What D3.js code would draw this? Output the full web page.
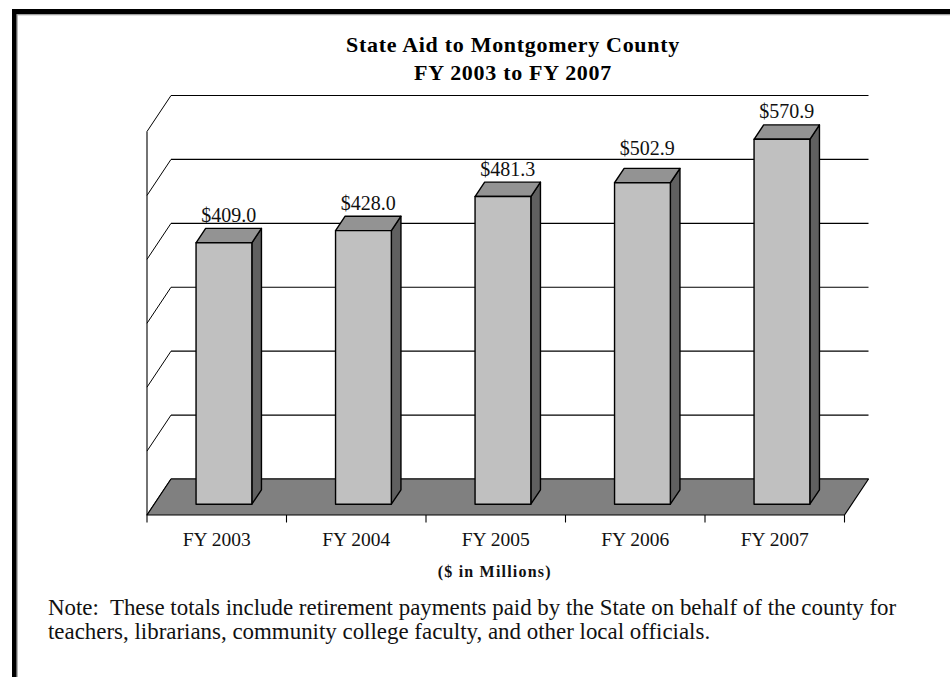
<!DOCTYPE html>
<html>
<head>
<meta charset="utf-8">
<script src="https://cdn.jsdelivr.net/npm/d3@7"></script>
<style>
html,body{margin:0;padding:0;background:#fff;}
svg{display:block;}
text{font-family:"Liberation Serif","Times New Roman",serif;}
</style>
</head>
<body>
<svg id="chart" width="950" height="677"></svg>
<script>
// ---- data ----
const categories = ["FY 2003", "FY 2004", "FY 2005", "FY 2006", "FY 2007"];
const values = [409.0, 428.0, 481.3, 502.9, 570.9];
const valueLabels = ["$409.0", "$428.0", "$481.3", "$502.9", "$570.9"];
const yTicks = [0, 100, 200, 300, 400, 500, 600];
const titleLines = ["State Aid to Montgomery County", "FY 2003 to FY 2007"];
const unitLabel = "($ in Millions)";
const noteLines = [
  "Note:  These totals include retirement payments paid by the State on behalf of the county for",
  "teachers, librarians, community college faculty, and other local officials."
];

// ---- layout ----
const svg = d3.select("#chart");
const depthX = 24, depthY = 36;           // back-to-front offset of the 3D box
const x = d3.scaleBand().domain(categories).range([147, 844.5]).paddingInner(0).paddingOuter(0);
const y = d3.scaleLinear().domain([0, 600]).range([479, 95.5]); // back wall
// point at depth p (0 = front, 1 = back)
const px = (xf, p) => xf + depthX * p;
const py = (v, p) => y(v) + depthY * (1 - p);
const barW = x.bandwidth() * 0.4;
const pFront = 0.3, pBack = 0.7;

// frame
svg.append("rect").attr("x", 12).attr("y", 9).attr("width", 950).attr("height", 5.3).attr("fill", "#000");
svg.append("rect").attr("x", 12).attr("y", 9).attr("width", 4.7).attr("height", 700).attr("fill", "#000");
svg.append("line").attr("x1", 16.7).attr("x2", 950).attr("y1", 14.8).attr("y2", 14.8).attr("stroke", "#999").attr("stroke-width", 1);
svg.append("line").attr("x1", 17.2).attr("x2", 17.2).attr("y1", 14.3).attr("y2", 677).attr("stroke", "#999").attr("stroke-width", 1);

// title
svg.append("g").selectAll("text").data(titleLines).join("text")
  .attr("x", 513).attr("y", (d, i) => 52 + i * 28)
  .attr("text-anchor", "middle").attr("font-weight", "bold")
  .attr("font-size", 22).attr("letter-spacing", 0.7)
  .text(d => d);

const x0 = x.range()[0], x1 = x.range()[1];

// back wall gridlines
svg.append("g").selectAll("line").data(yTicks).join("line")
  .attr("x1", px(x0, 1)).attr("x2", px(x1, 1))
  .attr("y1", d => y(d)).attr("y2", d => y(d))
  .attr("stroke", "#000").attr("stroke-width", 1.1);

// left wall diagonals
svg.append("g").selectAll("line").data(yTicks).join("line")
  .attr("x1", px(x0, 1)).attr("y1", d => py(d, 1))
  .attr("x2", px(x0, 0)).attr("y2", d => py(d, 0))
  .attr("stroke", "#000").attr("stroke-width", 1);
svg.append("line")
  .attr("x1", x0).attr("x2", x0)
  .attr("y1", py(600, 0)).attr("y2", py(0, 0))
  .attr("stroke", "#000").attr("stroke-width", 1.1);

// floor
const floorPts = [[px(x0, 0), py(0, 0)], [px(x0, 1), py(0, 1)], [px(x1, 1), py(0, 1)], [px(x1, 0), py(0, 0)]];
svg.append("polygon").attr("points", floorPts.map(p => p.join(",")).join(" "))
  .attr("fill", "#808080").attr("stroke", "#000").attr("stroke-width", 1.2).attr("stroke-linejoin", "round");

// front axis ticks
const tickXs = categories.map(c => x(c)).concat([x1]);
svg.append("g").selectAll("line").data(tickXs).join("line")
  .attr("x1", d => d).attr("x2", d => d)
  .attr("y1", py(0, 0)).attr("y2", py(0, 0) + 7.5)
  .attr("stroke", "#000").attr("stroke-width", 1.1);

// bars
const labelFont = 20, labelCap = 14;
const bars = svg.append("g").selectAll("g").data(values).join("g");
bars.each(function (v, i) {
  const g = d3.select(this);
  const cx = x(categories[i]) + x.bandwidth() / 2;
  const l = cx - barW / 2, r = cx + barW / 2;
  const fl = px(l, pFront), fr = px(r, pFront);
  const bl = px(l, pBack), br = px(r, pBack);
  const fTop = py(v, pFront), fBot = py(0, pFront);
  const bTop = py(v, pBack), bBot = py(0, pBack);
  const common = s => s.attr("stroke", "#000").attr("stroke-width", 1.4).attr("stroke-linejoin", "round");
  // side face
  common(g.append("polygon")
    .attr("points", [[fr, fTop], [br, bTop], [br, bBot], [fr, fBot]].map(p => p.join(",")).join(" "))
    .attr("fill", "#606060"));
  // top face
  common(g.append("polygon")
    .attr("points", [[fl, fTop], [bl, bTop], [br, bTop], [fr, fTop]].map(p => p.join(",")).join(" "))
    .attr("fill", "#939393"));
  // front face
  common(g.append("rect")
    .attr("x", fl).attr("y", fTop).attr("width", fr - fl).attr("height", fBot - fTop)
    .attr("fill", "#C0C0C0"));
  // value label, lifted above a gridline it would otherwise sit on
  let base = bTop - 6.5;
  yTicks.forEach(t => {
    const gy = y(t);
    if (gy < base + 1 && gy > base - labelCap - 1) base = gy - 4;
  });
  g.append("text")
    .attr("x", (fl + br) / 2).attr("y", base)
    .attr("text-anchor", "middle").attr("font-size", labelFont).attr("fill", "#111")
    .text(valueLabels[i]);
});

// category labels
svg.append("g").selectAll("text").data(categories).join("text")
  .attr("x", d => x(d) + x.bandwidth() / 2).attr("y", 546)
  .attr("text-anchor", "middle").attr("font-size", 19.5).attr("fill", "#111")
  .text(d => d);

// unit label
svg.append("text").attr("x", (x0 + x1) / 2 - 1).attr("y", 577)
  .attr("text-anchor", "middle").attr("font-weight", "bold")
  .attr("font-size", 16).attr("letter-spacing", 1.2).attr("fill", "#111")
  .text(unitLabel);

// note
const note = svg.append("g").selectAll("text").data(noteLines).join("text")
  .attr("x", 48).attr("y", (d, i) => 615 + i * 23.5)
  .attr("font-size", 20).attr("fill", "#111")
  .style("white-space", "pre")
  .text(d => d);
// fit first line to the reference width
const len = note.nodes()[0].getComputedTextLength();
const fs = 20 * 849 / len;
note.attr("font-size", fs);
</script>
</body>
</html>
